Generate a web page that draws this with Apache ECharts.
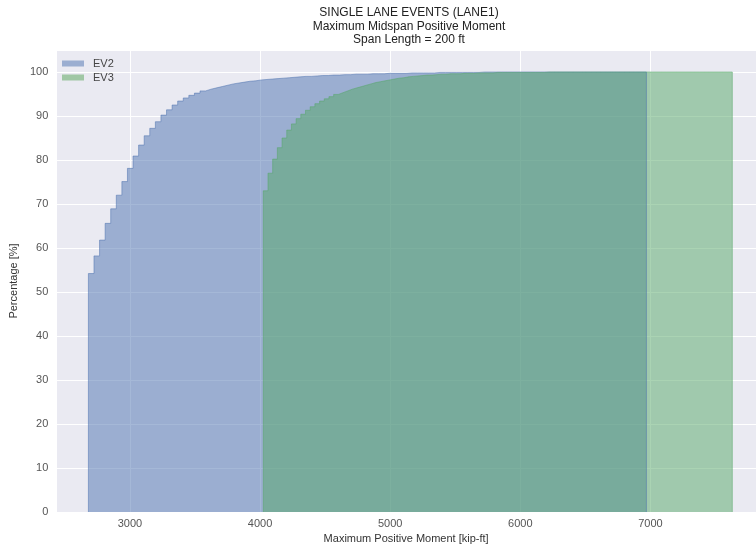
<!DOCTYPE html>
<html>
<head>
<meta charset="utf-8">
<title>Single lane events</title>
<script src="https://cdn.jsdelivr.net/npm/echarts@6/dist/echarts.min.js"></script>
<style>
    html, body { margin: 0; padding: 0; background: #fff; }
    #chart { width: 756px; height: 550px; }
</style>
</head>
<body>
<div id="chart"></div>
<script>
// histogram range (kip-ft) for each event type, 100 equal bins
var ev2Range = [2681, 6969];
var ev3Range = [4025, 7629];

// cumulative percentage at the end of each bin
var ev2Cum = [
    54.2, 58.2, 61.8, 65.6, 68.9, 72.0, 75.1, 78.1, 80.9, 83.4,
    85.5, 87.2, 88.7, 90.2, 91.4, 92.5, 93.4, 94.1, 94.7, 95.2,
    95.7, 96.1, 96.4, 96.7, 97.0, 97.3, 97.5, 97.7, 97.9, 98.0,
    98.2, 98.3, 98.4, 98.5, 98.6, 98.7, 98.8, 98.9, 99.0, 99.0,
    99.1, 99.2, 99.2, 99.3, 99.3, 99.4, 99.4, 99.5, 99.5, 99.5,
    99.6, 99.6, 99.6, 99.7, 99.7, 99.7, 99.7, 99.8, 99.8, 99.8,
    99.8, 99.8, 99.9, 99.9, 99.9, 99.9, 99.9, 99.9, 99.9, 99.9,
    100, 100, 100, 100, 100, 100, 100, 100, 100, 100,
    100, 100, 100, 100, 100, 100, 100, 100, 100, 100,
    100, 100, 100, 100, 100, 100, 100, 100, 100, 100
];
var ev3Cum = [
    73.0, 77.0, 80.2, 82.8, 85.0, 86.8, 88.2, 89.4, 90.4, 91.3,
    92.1, 92.8, 93.4, 93.9, 94.4, 94.9, 95.3, 95.7, 96.1, 96.4,
    96.7, 97.0, 97.3, 97.6, 97.8, 98.0, 98.2, 98.4, 98.6, 98.7,
    98.9, 99.0, 99.1, 99.2, 99.3, 99.3, 99.4, 99.5, 99.5, 99.6,
    99.6, 99.6, 99.7, 99.7, 99.7, 99.8, 99.8, 99.8, 99.8, 99.9,
    99.9, 99.9, 99.9, 99.9, 99.9, 99.9, 99.9, 99.9, 99.9, 99.9,
    100, 100, 100, 100, 100, 100, 100, 100, 100, 100,
    100, 100, 100, 100, 100, 100, 100, 100, 100, 100,
    100, 100, 100, 100, 100, 100, 100, 100, 100, 100,
    100, 100, 100, 100, 100, 100, 100, 100, 100, 100
];

var seriesNames = ['EV2', 'EV3'];
var yTicks = [0, 10, 20, 30, 40, 50, 60, 70, 80, 90, 100];

var FONT = 'Liberation Sans, Arial, sans-serif';

// turn bin range + cumulative values into a closed step outline
function stepPoints(range, cum) {
    var w = (range[1] - range[0]) / cum.length;
    var pts = [[range[0], 0]];
    for (var i = 0; i < cum.length; i++) {
        pts.push([range[0] + i * w, cum[i]]);
    }
    pts.push([range[1], cum[cum.length - 1]]);
    pts.push([range[1], 0]);
    return pts;
}

function histSeries(name, range, cum, color) {
    return {
        name: name,
        type: 'line',
        step: 'end',
        symbol: 'none',
        data: stepPoints(range, cum),
        lineStyle: { color: color, width: 1, opacity: 0.5 },
        itemStyle: { color: color },
        areaStyle: { color: color, opacity: 0.5, origin: 'start' }
    };
}

var chart = echarts.init(document.getElementById('chart'));

var option = {
    animation: false,
    backgroundColor: '#fff',
    title: {
        text: 'SINGLE LANE EVENTS (LANE1)\nMaximum Midspan Positive Moment\nSpan Length = 200 ft',
        left: 404,
        top: 1,
        textAlign: 'center',
        textStyle: { fontFamily: FONT, fontSize: 12, fontWeight: 'normal', color: '#222', lineHeight: 13.5 }
    },
    legend: {
        orient: 'vertical',
        left: 57,
        top: 53,
        itemWidth: 22,
        itemHeight: 6,
        itemGap: 3,
        icon: 'rect',
        data: [
            { name: seriesNames[0], itemStyle: { color: '#9BAED1', opacity: 1 } },
            { name: seriesNames[1], itemStyle: { color: '#A0C7A5', opacity: 1 } }
        ],
        textStyle: { fontFamily: FONT, fontSize: 11, color: '#444', padding: [0, 0, 0, 4] }
    },
    grid: {
        left: 53,
        right: 0,
        top: 50,
        bottom: 38,
        show: true,
        backgroundColor: '#EAEAF2',
        borderWidth: 0
    },
    xAxis: {
        type: 'value',
        min: 2434,
        max: 7811,
        splitNumber: 5,
        name: 'Maximum Positive Moment [kip-ft]',
        nameLocation: 'middle',
        nameGap: 20,
        nameTextStyle: { fontFamily: FONT, fontSize: 11, color: '#333' },
        axisLine: { show: false },
        axisTick: { show: false },
        axisLabel: {
            fontFamily: FONT, fontSize: 11, color: '#555', margin: 6,
            showMinLabel: false, showMaxLabel: false,
            formatter: function (v) { return v % 1000 === 0 ? String(v) : ''; }
        },
        splitLine: { show: true, lineStyle: { color: '#fff', width: 1 } }
    },
    yAxis: {
        type: 'value',
        min: yTicks[0],
        max: 105,
        interval: 10,
        name: 'Percentage [%]',
        nameLocation: 'middle',
        nameGap: 27,
        nameTextStyle: { fontFamily: FONT, fontSize: 11, color: '#333' },
        axisLine: { show: false },
        axisTick: { show: false },
        axisLabel: {
            fontFamily: FONT, fontSize: 11, color: '#555', margin: 8,
            showMaxLabel: false,
            formatter: function (v) { return yTicks.indexOf(v) >= 0 ? String(v) : ''; }
        },
        splitLine: { show: true, lineStyle: { color: '#fff', width: 1 } }
    },
    series: [
        histSeries(seriesNames[0], ev2Range, ev2Cum, '#4C72B0'),
        histSeries(seriesNames[1], ev3Range, ev3Cum, '#55A868')
    ]
};

chart.setOption(option);
</script>
</body>
</html>
